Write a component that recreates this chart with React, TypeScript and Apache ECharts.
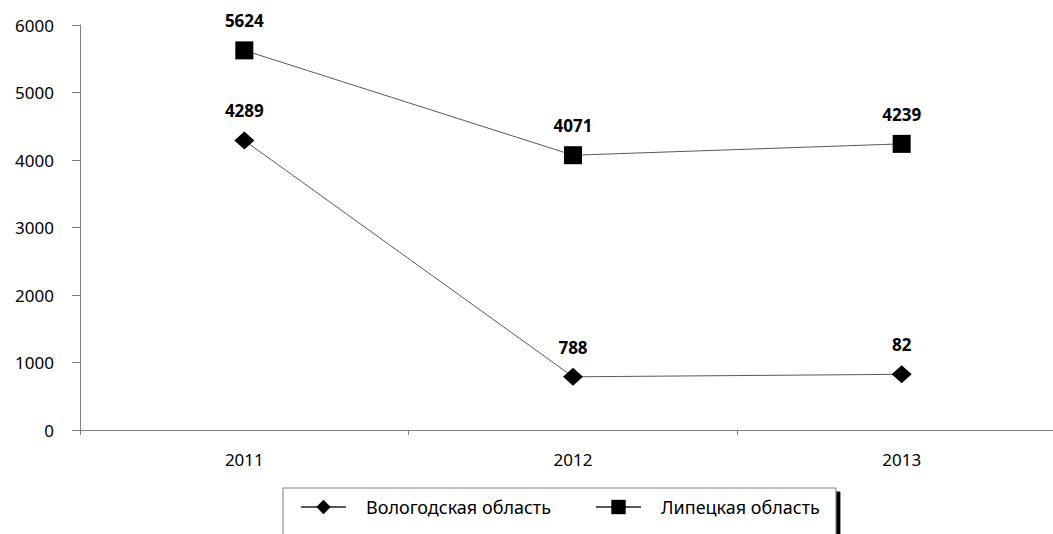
import React, { useEffect, useRef } from "react";
import * as echarts from "echarts";

const categories = ["2011", "2012", "2013"];
const vologdaValues = [4289, 788, 825];
const vologdaLabels = ["4289", "788", "82"];
const lipetskValues = [5624, 4071, 4239];
const lipetskLabels = ["5624", "4071", "4239"];
const seriesNames = ["Вологодская область", "Липецкая область"];

const FONT = "'Noto Sans', 'DejaVu Sans', sans-serif";

export default function App() {
  const ref = useRef<HTMLDivElement>(null);
  useEffect(() => {
    if (!ref.current) return;
    const chart = echarts.init(ref.current, null, { renderer: "svg" });
    const labelStyle = (labels: string[]) => ({
      show: true,
      position: "top",
      distance: 12,
      fontFamily: FONT,
      fontWeight: "bold",
      fontSize: 17,
      color: "#000",
      formatter: (p: any) => labels[p.dataIndex],
    });
    chart.setOption({
      animation: false,
      backgroundColor: "#fff",
      textStyle: { fontFamily: FONT },
      grid: { left: 80, right: 0, top: 25, bottom: 104, containLabel: false },
      xAxis: {
        type: "category",
        data: categories,
        boundaryGap: true,
        axisLine: { lineStyle: { color: "#7f7f7f", width: 1 } },
        axisTick: { show: true, length: 5, interval: 0, lineStyle: { color: "#7f7f7f" } },
        axisLabel: { color: "#000", fontSize: 17, margin: 21, fontFamily: FONT },
      },
      yAxis: {
        type: "value",
        min: 0,
        max: 6000,
        interval: 1000,
        axisLine: { show: true, lineStyle: { color: "#7f7f7f", width: 1 } },
        axisTick: { show: true, length: 8, lineStyle: { color: "#7f7f7f" } },
        splitLine: { show: false },
        axisLabel: {
          color: "#000",
          fontSize: 17,
          margin: 26,
          fontFamily: FONT,
          formatter: (v: number) => String(v),
        },
      },
      legend: {
        left: 283,
        top: 488,
        width: 555,
        height: 60,
        padding: [10, 16, 24, 17],
        itemGap: 44,
        itemWidth: 45,
        itemHeight: 18,
        borderColor: "#7f7f7f",
        borderWidth: 1,
        backgroundColor: "#fff",
        shadowColor: "#000",
        shadowBlur: 0,
        shadowOffsetX: 4,
        shadowOffsetY: 4,
        textStyle: { fontSize: 18, color: "#000", fontFamily: FONT, padding: [0, 0, 0, 15] },
        data: seriesNames,
      },
      series: [
        {
          name: seriesNames[0],
          type: "line",
          data: vologdaValues,
          symbol: "diamond",
          symbolSize: [20, 18],
          itemStyle: { color: "#000" },
          lineStyle: { color: "#595959", width: 1 },
          label: labelStyle(vologdaLabels),
        },
        {
          name: seriesNames[1],
          type: "line",
          data: lipetskValues,
          symbol: "rect",
          symbolSize: 18,
          itemStyle: { color: "#000" },
          lineStyle: { color: "#595959", width: 1 },
          label: labelStyle(lipetskLabels),
        },
      ],
    });
    return () => chart.dispose();
  }, []);
  return (
    <div style={{ width: 1053, height: 534, position: "absolute", left: 0, top: 0, overflow: "hidden" }}>
      <div ref={ref} style={{ width: 1066, height: 534 }} />
    </div>
  );
}
